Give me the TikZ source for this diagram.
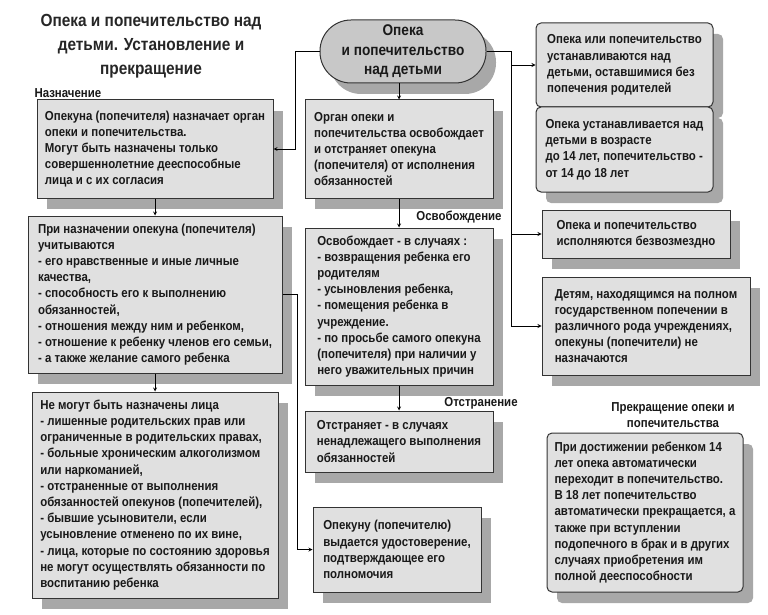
\documentclass[tikz,border=0pt]{standalone}
\usepackage{fontspec}
\setmainfont{Liberation Sans}[FakeStretch=0.88]
\usetikzlibrary{shadows}
\definecolor{boxgray}{HTML}{E0E0E0}
\definecolor{ovalgray}{HTML}{C8C8C8}
\definecolor{shadowgray}{HTML}{A8A8A8}
\newcommand{\boxfont}{\fontsize{13}{16.2}\selectfont\bfseries}
\newcommand{\titlefont}{\fontsize{17.5}{24}\selectfont\bfseries}
\newcommand{\ovalfont}{\fontsize{15.5}{19.5}\selectfont\bfseries}
\begin{document}
\begin{tikzpicture}[x=1pt,y=-1pt,
  box/.style={draw=black!80, line width=1pt, fill=boxgray, align=left, inner sep=5pt,
    font=\boxfont, text=black!90,
    drop shadow={shadow xshift=10pt, shadow yshift=-11pt, fill=shadowgray, opacity=1}},
  rbox/.style={box, rounded corners=5pt},
  lbl/.style={font=\boxfont, text=black!90},
  arr/.style={-stealth, line width=0.8pt}]
\useasboundingbox (0,0) rectangle (768,615);
\node[font=\titlefont, align=center, text=black!85] (title) at (151,46) {Опека и попечительство над\\детьми. Установление и\\прекращение};
\node[lbl, anchor=west] (lnazn) at (31,93) {Назначение};
\node[box, minimum width=236pt, minimum height=98pt] (nazn) at (155,149) {Опекуна (попечителя) назначает орган\\опеки  и попечительства.\\Могут быть назначены только\\совершеннолетние дееспособные\\лица и с их согласия};
\node[box, minimum width=254pt, minimum height=157pt] (uchet) at (155,294.5) {При назначении опекуна (попечителя)\\учитываются\\- его нравственные и иные личные\\качества,\\- способность его к выполнению\\обязанностей,\\- отношения между ним  и ребенком,\\- отношение к ребенку членов его семьи,\\- а также желание самого ребенка};
\node[box, minimum width=246pt, minimum height=206pt] (nemogut) at (155,495) {Не могут быть назначены лица\\- лишенные родительских прав или\\ограниченные в родительских правах,\\- больные хроническим алкоголизмом\\или наркоманией,\\- отстраненные от выполнения\\обязанностей опекунов (попечителей),\\- бывшие усыновители, если\\усыновление отменено по их вине,\\- лица, которые по состоянию здоровья\\не могут осуществлять обязанности по\\воспитанию ребенка};
\node[box, rounded corners=31pt, align=center, font=\ovalfont, fill=ovalgray, minimum width=166pt, minimum height=63pt, inner sep=2pt] (opeka) at (403,51.5) {Опека\\и попечительство\\над детьми};
\node[box, minimum width=188pt, minimum height=98pt] (organ) at (399,149) {Орган опеки и\\попечительства освобождает\\и отстраняет опекуна\\(попечителя) от исполнения\\обязанностей};
\node[lbl] (losvob) at (459,217) {Освобождение};
\node[box, minimum width=188pt, minimum height=157pt] (osvob) at (399,306.5) {Освобождает - в случаях :\\- возвращения ребенка его\\родителям\\- усыновления ребенка,\\- помещения ребенка в\\учреждение.\\- по просьбе самого опекуна\\(попечителя) при наличии у\\него уважительных причин};
\node[lbl] (lotstr) at (481,403) {Отстранение};
\node[box, minimum width=188pt, minimum height=61pt] (otstr) at (399,441.5) {Отстраняет -  в случаях\\ненадлежащего выполнения\\обязанностей};
\node[box, minimum width=168pt, minimum height=85pt] (udost) at (397,549.5) {Опекуну (попечителю)\\выдается удостоверение,\\подтверждающее его\\полномочия};
\node[rbox, minimum width=177pt, minimum height=84pt] (ustan) at (624.5,65) {Опека или попечительство\\устанавливаются над\\детьми, оставшимися без\\попечения родителей};
\node[rbox, minimum width=177pt, minimum height=85pt] (vozrast) at (624.5,149.5) {Опека устанавливается над\\детьми в возрасте\\до 14 лет, попечительство -\\от 14 до 18 лет};
\node[box, minimum width=188pt, minimum height=48pt] (bezvozm) at (636,234) {Опека и попечительство\\исполняются безвозмездно};
\node[box, minimum width=208pt, minimum height=98pt] (gosud) at (646,326) {Детям, находящимся на полном\\государственном попечении в\\различного рода учреждениях,\\опекуны (попечители) не\\назначаются};
\node[lbl, align=center] (lprekr) at (673,415) {Прекращение опеки и\\попечительства};
\node[rbox, minimum width=196pt, minimum height=159pt] (prekr) at (645,512.5) {При достижении ребенком 14\\лет опека автоматически\\переходит в попечительство.\\В 18 лет попечительство\\автоматически прекращается, а\\также при вступлении\\подопечного в брак и в других\\случаях приобретения им\\полной дееспособности};
\coordinate (lbus) at (295,0);
\coordinate (rbus) at (511,0);
\coordinate (mbus) at (297,0);
\draw[arr] (opeka.west) -- (opeka.west -| lbus) |- (nazn.east);
\draw[line width=0.8pt] (opeka.east) -- (opeka.east -| rbus) -- (rbus |- gosud.west);
\foreach \t in {ustan,bezvozm,gosud}{
  \draw[arr] (rbus |- \t.west) -- (\t.west);
}
\draw[arr] (nazn.south) -- (uchet.north);
\draw[arr] (uchet.south) -- (nemogut.north);
\draw[arr] (uchet.east) -- (uchet.east -| mbus) |- (udost.west);
\draw[arr] (opeka.south -| organ.north) -- (organ.north);
\draw[arr] (organ.south) -- (osvob.north);
\draw[arr] (osvob.south) -- (otstr.north);
\end{tikzpicture}
\end{document}
